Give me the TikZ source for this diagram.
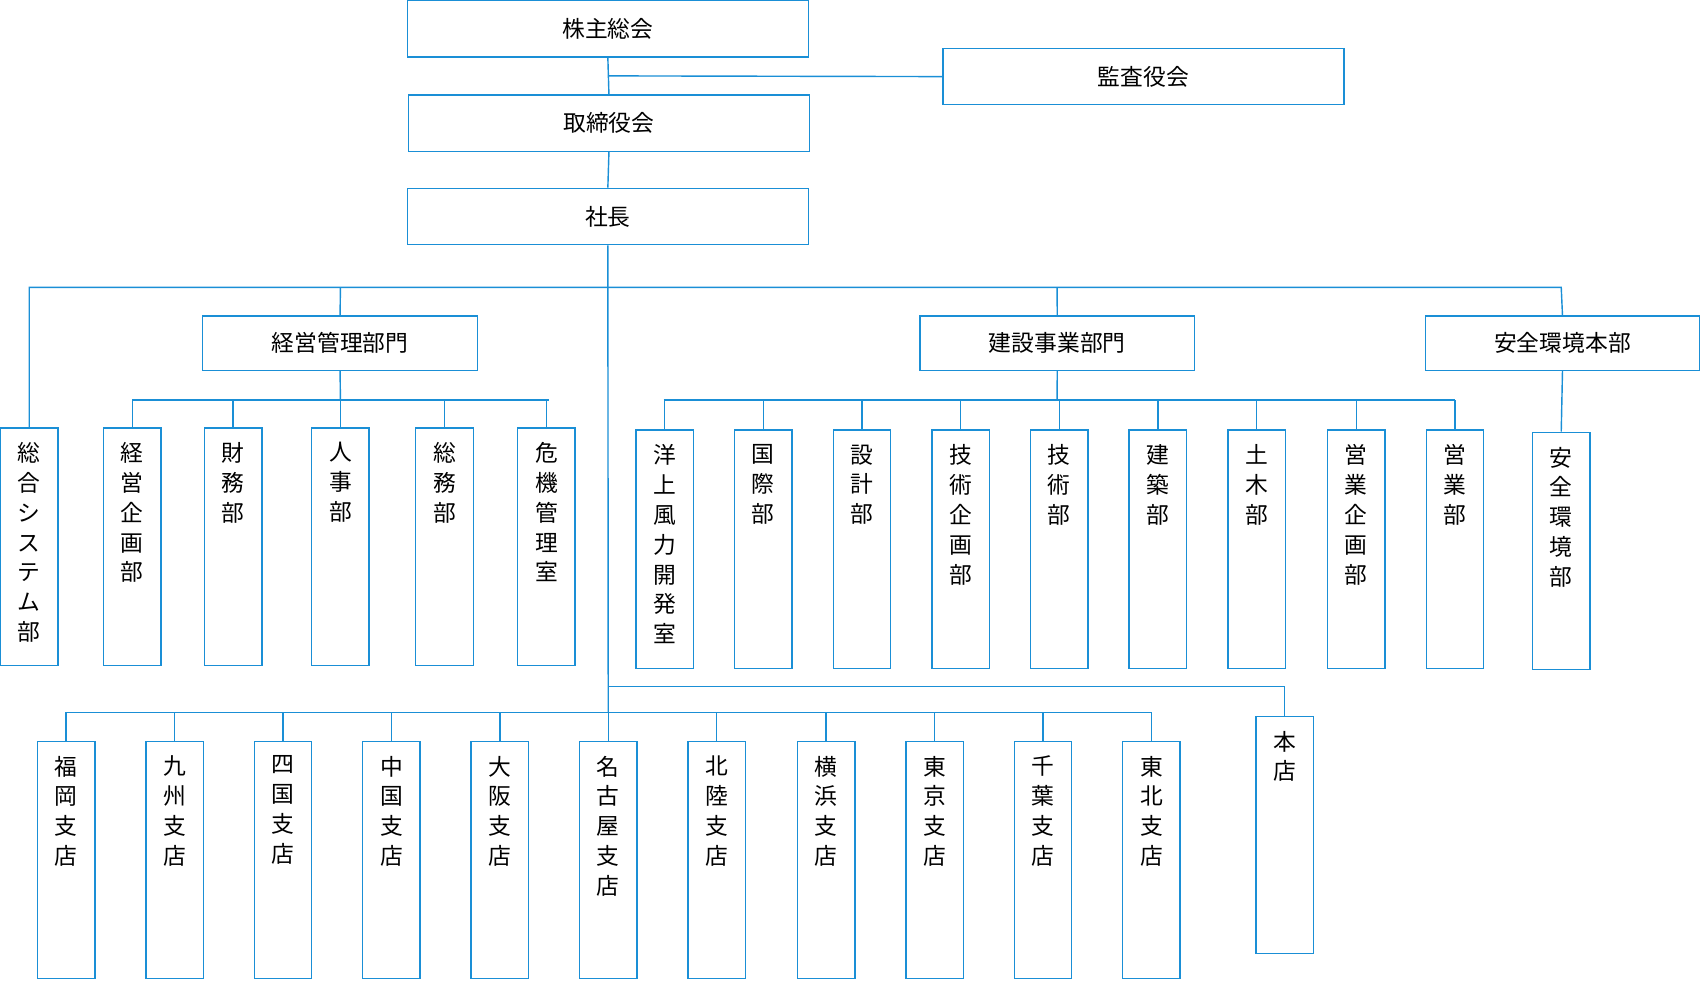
\documentclass[tikz,border=0pt]{standalone}
\usepackage{fontspec}
\setmainfont{Noto Sans CJK JP}
\definecolor{ob}{HTML}{1A8FD6}
\begin{document}
\begin{tikzpicture}[x=1pt,y=-1pt,
  line/.style={draw=ob,line width=1.3pt},
  hbox/.style={draw=ob,line width=1.3pt,minimum width=#1,minimum height=52,inner sep=0,font=\fontsize{21}{21}\selectfont,anchor=north west},
  vb/.style={draw=ob,line width=1.3pt,minimum width=53,minimum height=#1,inner sep=0,anchor=north},
  vt/.style={anchor=north,align=center,inner sep=0,font=\fontsize{21}{27.5}\selectfont}]
\useasboundingbox (0,0) rectangle (1568,904);
\node[hbox=370] (kabu) at (375,0) {株主総会};
\node[hbox=370] (kansa) at (869,44) {監査役会};
\node[hbox=370] (tori) at (376,87) {取締役会};
\node[hbox=370] (sha) at (375,173) {社長};
\node[hbox=254,minimum height=50] (keiei) at (186,291) {経営管理部門};
\node[hbox=253,minimum height=50] (kensetsu) at (848,291) {建設事業部門};
\node[hbox=253,minimum height=50] (anzen) at (1314,291) {安全環境本部};
\draw[line] (kabu.south) -- (tori.north);
\draw[line] (561,70) coordinate (k1) -- (kansa.west);
\draw[line] (tori.south) -- (sha.north);
\coordinate (bar1) at (561,633);
\coordinate (bar2) at (561,657);
\draw[line] (sha.south) -- (bar2);
% top bar
\foreach \n/\x/\t in {sogo/27/{総\\合\\シ\\ス\\テ\\ム\\部}}{
  \node[vb=219] (\n) at (\x,394) {};
  \node[vt] at (\x,408) {\t};}
\draw[line] (sogo.north) -- (27,265) -- (1440,265) -- (anzen.north);
\draw[line] (314,265) -- (keiei.north);
\draw[line] (975,265) -- (kensetsu.north);
% keiei children
\draw[line] (keiei.south) -- (314,369);
\draw[line] (122,369) -- (506,369);
\foreach \n/\x/\t in {kk/122/{経\\営\\企\\画\\部},zm/215/{財\\務\\部},jj/314/{人\\事\\部},sm/410/{総\\務\\部},kik/504/{危\\機\\管\\理\\室}}{
  \node[vb=219] (\n) at (\x,394) {};
  \node[vt] at (\x,408) {\t};
  \draw[line] (\x,369) -- (\n.north);}
% kensetsu children
\draw[line] (kensetsu.south) -- (975,369);
\draw[line] (612,369) -- (1342,369);
\foreach \n/\x/\t in {yo/613/{洋\\上\\風\\力\\開\\発\\室},kok/704/{国\\際\\部},sek/795/{設\\計\\部},gk/886/{技\\術\\企\\画\\部},gj/977/{技\\術\\部},kc/1068/{建\\築\\部},dm/1159/{土\\木\\部},ek/1251/{営\\業\\企\\画\\部},eg/1342/{営\\業\\部}}{
  \node[vb=220] (\n) at (\x,396) {};
  \node[vt] at (\x,410) {\t};
  \draw[line] (\x,369) -- (\n.north);}
\node[vb=219] (az) at (1440,398) {};
\node[vt] at (1440,412) {安\\全\\環\\境\\部};
\draw[line] (anzen.south) -- (az.north);
% honten
\node[vb=219] (hon) at (1185,660) {};
\node[vt] at (1185,674) {本\\店};
\draw[line] (bar1) -- (1185,633) -- (hon.north);
% branches
\draw[line] (61,657) -- (1062,657);
\foreach \n/\x/\t in {fk/61/{福\\岡\\支\\店},ks/161/{九\\州\\支\\店},sk/261/{四\\国\\支\\店},cg/361/{中\\国\\支\\店},os/461/{大\\阪\\支\\店},ng/561/{名\\古\\屋\\支\\店},hr/661/{北\\陸\\支\\店},yh/762/{横\\浜\\支\\店},tk/862/{東\\京\\支\\店},cb/962/{千\\葉\\支\\店},th/1062/{東\\北\\支\\店}}{
  \node[vb=219] (\n) at (\x,683) {};
  \node[vt] at (\x,697) {\t};
  \draw[line] (\x,657) -- (\n.north);}
\end{tikzpicture}
\end{document}
